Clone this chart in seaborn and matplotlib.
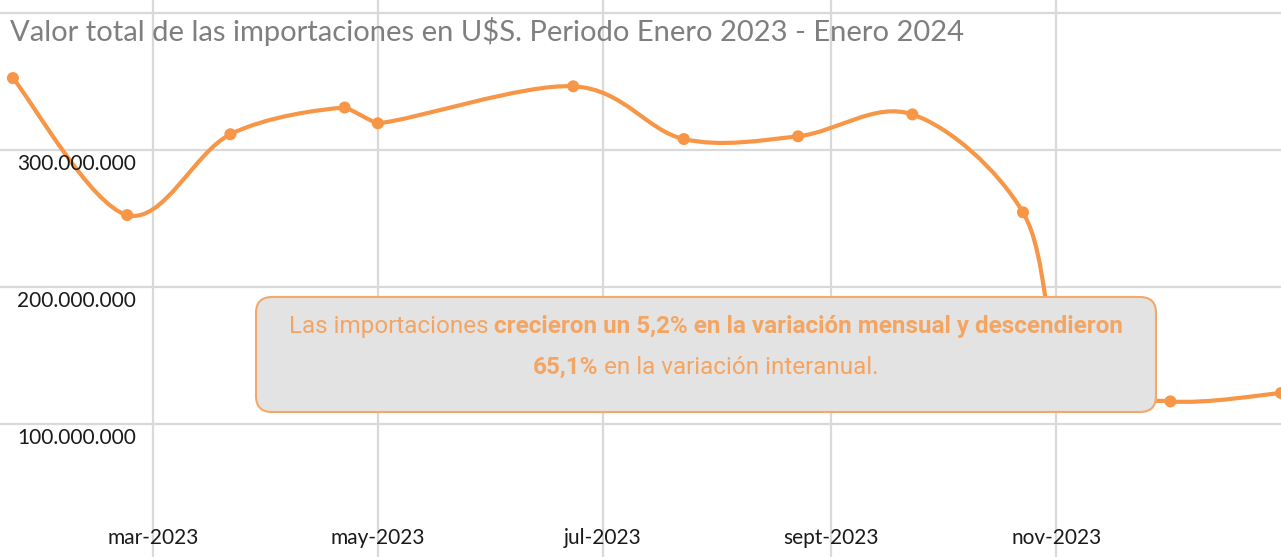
import numpy as np
import pandas as pd
import matplotlib
matplotlib.use('Agg')
import matplotlib.pyplot as plt
import matplotlib.dates as mdates
import seaborn as sns
from matplotlib.path import Path
from matplotlib.patches import PathPatch, FancyBboxPatch
from matplotlib.transforms import IdentityTransform
from matplotlib.offsetbox import TextArea, HPacker, VPacker, AnnotationBbox

# datos
fechas = ['2023-01-22', '2023-02-22', '2023-03-22', '2023-04-22', '2023-05-01',
          '2023-06-23', '2023-07-23', '2023-08-23', '2023-09-23', '2023-10-23',
          '2023-11-04', '2023-12-02', '2024-01-01']
valores = [352.5e6, 252.5e6, 311.5e6, 331.0e6, 319.5e6,
           346.5e6, 308.0e6, 310.0e6, 326.0e6, 254.5e6,
           135.0e6, 116.5e6, 122.6e6]

ytick_vals = [100e6, 200e6, 300e6, 400e6]
ytick_labels = ['100.000.000', '200.000.000', '300.000.000', '']
xtick_fechas = ['2023-03-01', '2023-05-01', '2023-07-01', '2023-09-01', '2023-11-01']
xtick_labels = ['mar-2023', 'may-2023', 'jul-2023', 'sept-2023', 'nov-2023']

titulo = 'Valor total de las importaciones en U$S. Periodo Enero 2023 - Enero 2024'

naranja = '#F79646'
naranja_txt = '#F5A562'

sns.set_style('white')
plt.rcParams['font.family'] = ['Lato', 'DejaVu Sans']

df = pd.DataFrame({'fecha': pd.to_datetime(fechas), 'valor': valores})

fig = plt.figure(figsize=(12.81, 5.57), dpi=100)
ax = fig.add_axes([0, 0, 1, 1])

# linea suavizada tipo excel (catmull-rom; en tramos muy cortos casi recta)
x = mdates.date2num(df['fecha'])
y = df['valor'].values
n = len(x)
verts = [(x[0], y[0])]
codes = [Path.MOVETO]
for i in range(n - 1):
    p0 = max(i - 1, 0)
    p3 = min(i + 2, n - 1)
    dx = x[i + 1] - x[i]
    t1 = np.array([x[i + 1] - x[p0], y[i + 1] - y[p0]]) / 6
    t2 = np.array([x[p3] - x[i], y[p3] - y[i]]) / 6
    if t1[0] > dx / 1.5:
        t1 = t1 * (dx / 10) / t1[0]
    if t2[0] > dx / 1.5:
        t2 = t2 * (dx / 10) / t2[0]
    verts += [(x[i] + t1[0], y[i] + t1[1]),
              (x[i + 1] - t2[0], y[i + 1] - t2[1]),
              (x[i + 1], y[i + 1])]
    codes += [Path.CURVE4] * 3
ax.add_patch(PathPatch(Path(verts, codes), fill=False, ec=naranja, lw=3,
                       capstyle='round', joinstyle='round', zorder=3))

sns.scatterplot(data=df, x='fecha', y='valor', ax=ax, color=naranja, s=75,
                edgecolor='none', zorder=4, clip_on=True)

ax.set_xlim(mdates.date2num(pd.Timestamp('2023-01-18 12:00')),
            mdates.date2num(pd.Timestamp('2024-01-01')))
ax.set_ylim(2.9e6, 409.5e6)

ax.set_yticks(ytick_vals)
ax.set_xticks(mdates.date2num(pd.to_datetime(xtick_fechas)))
ax.grid(True, color='#d9d9d9', lw=1.6, zorder=0)
ax.tick_params(length=0, labelleft=False, labelbottom=False)
ax.set_xlabel('')
ax.set_ylabel('')
for s in ax.spines.values():
    s.set_visible(False)

for v, lab in zip(ytick_vals, ytick_labels):
    ax.annotate(lab, xy=(17 / 1281, v), xycoords=('axes fraction', 'data'),
                xytext=(0, -14), textcoords='offset pixels',
                ha='left', va='center', fontsize=15, color='#1a1a1a')
for d, lab in zip(xtick_fechas, xtick_labels):
    ax.annotate(lab, xy=(mdates.date2num(pd.Timestamp(d)), 0),
                xycoords=('data', 'axes fraction'),
                xytext=(0, 19), textcoords='offset pixels',
                ha='center', va='center', fontsize=15, color='#1a1a1a')

fig.text(10 / 1281, 1 - 31 / 557, titulo, ha='left', va='center',
         color='#7f7f7f', fontsize=21)

# recuadro con el comentario
caja = FancyBboxPatch((256, 557 - 412), 900, 115,
                      boxstyle='round,pad=0,rounding_size=16',
                      transform=IdentityTransform(), fc='#e3e3e3',
                      ec='#F5A868', lw=1.5, zorder=10)
ax.add_artist(caja)

fam = ['Roboto', 'DejaVu Sans']
reg = dict(family=fam, size=17.5, color=naranja_txt)
neg = dict(family=fam, size=17.5, color=naranja_txt, weight='bold')
linea1 = HPacker(children=[TextArea('Las importaciones', textprops=reg),
                           TextArea('crecieron un 5,2% en la variación mensual y descendieron', textprops=neg)],
                 sep=4, pad=0, align='baseline')
linea2 = HPacker(children=[TextArea('65,1%', textprops=neg),
                           TextArea('en la variación interanual.', textprops=reg)],
                 sep=4, pad=0, align='baseline')
bloque = VPacker(children=[linea1, linea2], sep=13, pad=0, align='center')
ab = AnnotationBbox(bloque, (706, 557 - 347), xycoords='figure pixels',
                    frameon=False, box_alignment=(0.5, 0.5), zorder=11)
ax.add_artist(ab)

fig.savefig('out.png', dpi=100)
